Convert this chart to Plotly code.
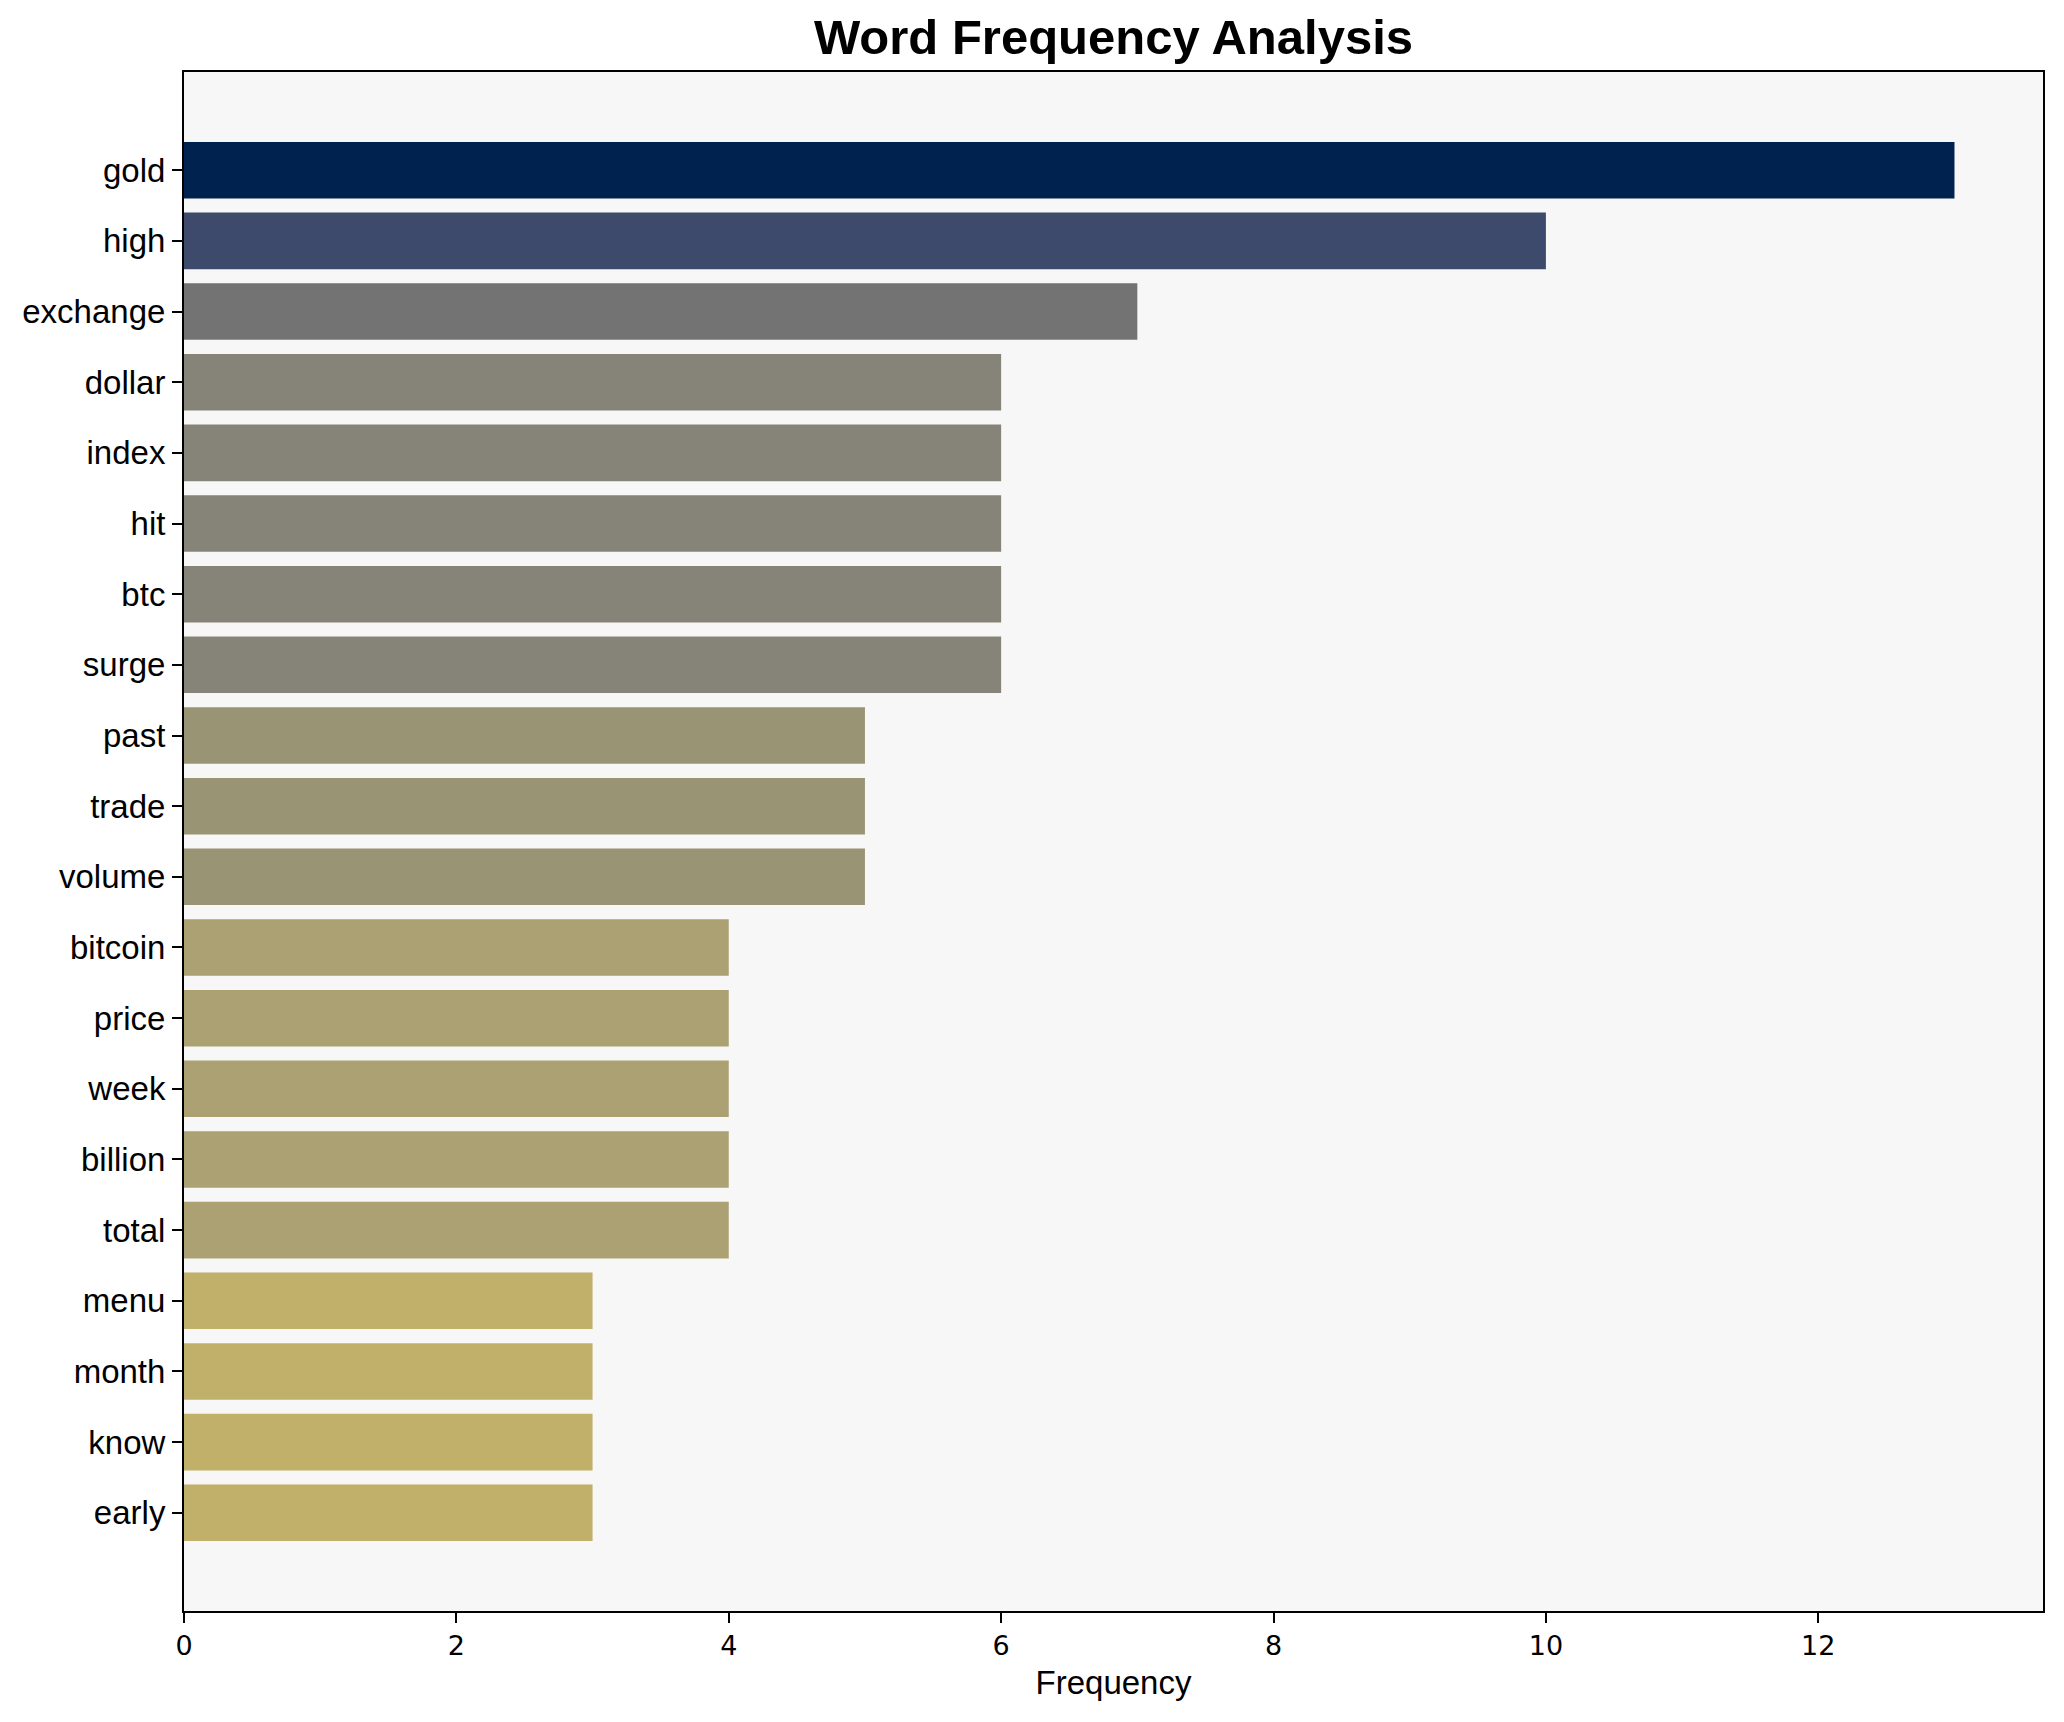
import plotly.graph_objects as go

words = ["gold", "high", "exchange", "dollar", "index", "hit", "btc", "surge",
         "past", "trade", "volume", "bitcoin", "price", "week", "billion", "total",
         "menu", "month", "know", "early"]
counts = [13, 10, 7, 6, 6, 6, 6, 6, 5, 5, 5, 4, 4, 4, 4, 4, 3, 3, 3, 3]
color_by_count = {13: "#00224e", 10: "#3d4a6b", 7: "#737373", 6: "#868379",
                  5: "#999474", 4: "#aba172", 3: "#c0b06a"}
x_ticks = [0, 2, 4, 6, 8, 10, 12]

colors = [color_by_count[c] for c in counts]
n = len(words)

W, H = 2056, 1714  # page adds an 8px body margin
L, T = 176, 64
R = W - (2043 - 8)
B = H - (1611 - 8)

fig = go.Figure(go.Bar(
    x=counts, y=words, orientation="h", width=0.8,
    marker=dict(color=colors, line=dict(width=0)),
))

fig.update_layout(
    width=W, height=H,
    margin=dict(l=L, r=R, t=T, b=B),
    paper_bgcolor="white", plot_bgcolor="#f7f7f7",
    showlegend=False,
    title=dict(text="<b>Word Frequency Analysis</b>", x=(L + (W - R)) / 2 / W, xanchor="center",
               y=1 - 29 / H, yanchor="middle", yref="container",
               font=dict(family="Liberation Sans, Arial", size=49, color="black")),
)

fig.update_xaxes(
    range=[0, 13.65], tickvals=x_ticks, ticktext=[str(v) for v in x_ticks],
    showgrid=False, zeroline=False,
    showline=True, linecolor="black", linewidth=2, mirror=True,
    ticks="outside", ticklen=10, tickwidth=1.5, tickcolor="black",
    tickfont=dict(family="DejaVu Sans", size=27, color="black"),
    title=dict(text="Frequency", font=dict(family="Liberation Sans, Arial", size=33, color="black"),
               standoff=10),
)
fig.update_yaxes(
    type="category", categoryorder="array", categoryarray=words,
    range=[n - 1 + 0.4 + 0.99, -0.4 - 0.99],
    showgrid=False, zeroline=False,
    showline=True, linecolor="black", linewidth=2, mirror=True,
    ticks="outside", ticklen=10, tickwidth=1.5, tickcolor="black",
    tickfont=dict(family="Liberation Sans, Arial", size=33, color="black"),
)

fig.write_html("out.html")
